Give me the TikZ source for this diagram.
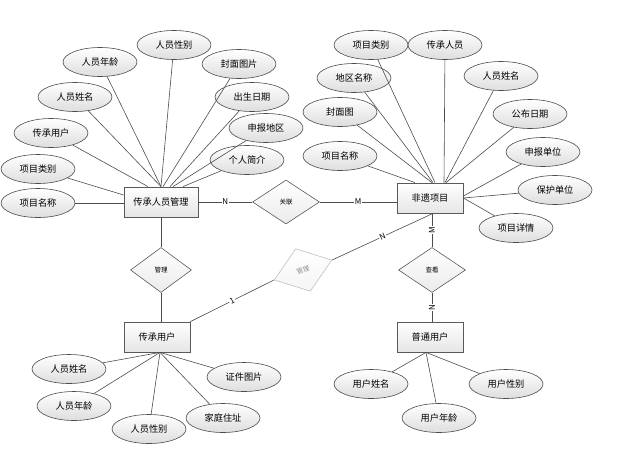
\documentclass[tikz,border=0pt]{standalone}
\usepackage{fontspec}
\newfontfamily\cjk{Noto Sans CJK SC}
\usepackage{tikz}
\usetikzlibrary{shapes,arrows}
\usetikzlibrary{shapes.geometric}
\usetikzlibrary{shadows}

\begin{document}
\begin{tikzpicture}[x=1pt, y=-1pt,
	attr/.style={ellipse, draw=black!70, line width=0.6pt, top color=white, bottom color=black!13, minimum width=74pt, minimum height=29pt, inner sep=0pt, font=\cjk\fontsize{9.2}{11}\selectfont},
	entity/.style={rectangle, draw=black!65, line width=0.8pt, top color=white, bottom color=black!10, minimum width=66pt, minimum height=30pt, inner sep=0pt, drop shadow={opacity=0.25, shadow xshift=1pt, shadow yshift=-1pt}, font=\cjk\fontsize{9.2}{11}\selectfont},
	rel/.style={diamond, draw=black!65, line width=0.6pt, top color=white, bottom color=black!8, minimum width=67pt, minimum height=44pt, inner sep=0pt, font=\cjk\fontsize{6.5}{7}\selectfont},
	conn/.style={draw=black!70, line width=0.6pt},
	card/.style={fill=white, inner sep=0.8pt, font=\cjk\fontsize{8}{9}\selectfont}]
	\useasboundingbox (0,0) rectangle (623,450);

	% 传承人员管理
	\node[entity, minimum width=74pt] (mgr) at (161,202) {传承人员管理};
	\node[attr] (m1) at (174,45) {人员性别};
	\node[attr] (m2) at (100,62) {人员年龄};
	\node[attr] (m3) at (239,64) {封面图片};
	\node[attr] (m4) at (75,97) {人员姓名};
	\node[attr] (m5) at (252,97) {出生日期};
	\node[attr] (m6) at (51,133) {传承用户};
	\node[attr] (m7) at (266,128) {申报地区};
	\node[attr] (m8) at (38,169) {项目类别};
	\node[attr] (m9) at (247,160) {个人简介};
	\node[attr] (m10) at (38,203) {项目名称};

	\draw[conn] (m1) -- (mgr.north);
	\draw[conn] (m2) -- (mgr.north);
	\draw[conn] (m3) -- ([xshift=2pt]mgr.north);
	\draw[conn] (m4) -- (mgr.north);
	\draw[conn] (m5) -- ([xshift=9pt]mgr.north);
	\draw[conn] (m6) -- ([xshift=-13pt]mgr.north);
	\draw[conn] (m7) -- ([xshift=12pt]mgr.north);
	\draw[conn] (m8) -- ([yshift=7pt]mgr.west);
	\draw[conn] (m9) -- ([xshift=22pt]mgr.north);
	\draw[conn] (m10.east) -- (m10.east -| mgr.west);

	% 非遗项目
	\node[entity] (item) at (430,198) {非遗项目};
	\node[attr] (f1) at (371,45) {项目类别};
	\node[attr] (f2) at (445,45) {传承人员};
	\node[attr] (f3) at (354,78) {地区名称};
	\node[attr] (f4) at (501,76) {人员姓名};
	\node[attr] (f5) at (340,112) {封面图};
	\node[attr] (f6) at (530,114) {公布日期};
	\node[attr] (f7) at (340,156) {项目名称};
	\node[attr] (f8) at (543,152) {申报单位};
	\node[attr] (f9) at (555,190) {保护单位};
	\node[attr] (f10) at (516,228) {项目详情};

	\draw[conn] (f1) -- ([xshift=5pt]item.north);
	\draw[conn] (f2) -- ([xshift=14pt]item.north);
	\draw[conn] (f3) -- ([xshift=3pt]item.north);
	\draw[conn] (f4) -- ([xshift=15pt]item.north);
	\draw[conn] (f5) -- ([xshift=2pt]item.north);
	\draw[conn] (f6) -- ([xshift=16pt]item.north);
	\draw[conn] (f7) -- ([xshift=-15pt]item.north);
	\draw[conn] (f8) -- ([yshift=2pt]item.east);
	\draw[conn] (f9) -- (item.east);
	\draw[conn] (f10) -- (item.east);

	% 传承用户
	\node[entity] (user) at (157,337) {传承用户};
	\node[attr] (u1) at (69,369) {人员姓名};
	\node[attr] (u2) at (244,377) {证件图片};
	\node[attr] (u3) at (74,406) {人员年龄};
	\node[attr] (u4) at (223,418) {家庭住址};
	\node[attr] (u5) at (149,429) {人员性别};
	\foreach \a in {u1,u2,u3,u4,u5}
		\draw[conn] (\a) -- ([xshift=3pt]user.south);

	% 普通用户
	\node[entity] (puser) at (430,337) {普通用户};
	\node[attr] (p1) at (371,384) {用户姓名};
	\node[attr] (p2) at (506,384) {用户性别};
	\node[attr] (p3) at (439,418) {用户年龄};
	\foreach \a in {p1,p2,p3}
		\draw[conn] (\a) -- ([xshift=-4pt]puser.south);

	% 联系
	\node[rel] (assoc) at (286,202) {关联};
	\node[rel, minimum width=61pt, minimum height=45pt] (manage) at (161,270) {管理};
	\node[rel, draw=black!25, text=black!45, bottom color=black!4, rotate=19, minimum width=61pt, minimum height=45pt] (manage2) at (303,270) {管理};
	\node[rel, minimum height=45pt] (view) at (432,270) {查看};

	\draw[conn] (mgr.east) -- node[card] {N} (assoc.west);
	\draw[conn] (assoc.east) -- node[card] {M} (assoc.east -| item.west);
	\draw[conn] (mgr.south) -- (manage.north);
	\draw[conn] (manage.south) -- (manage.south |- user.north);
	\draw[conn] (user.north east) -- node[card, sloped] {1} (manage2.west);
	\draw[conn] (manage2.east) -- node[card, sloped] {N} ([xshift=3pt]item.south);
	\draw[conn] (view.north |- item.south) -- node[card, rotate=90] {M} (view.north);
	\draw[conn] (view.south) -- node[card, rotate=90] {N} (view.south |- puser.north);
\end{tikzpicture}
\end{document}
